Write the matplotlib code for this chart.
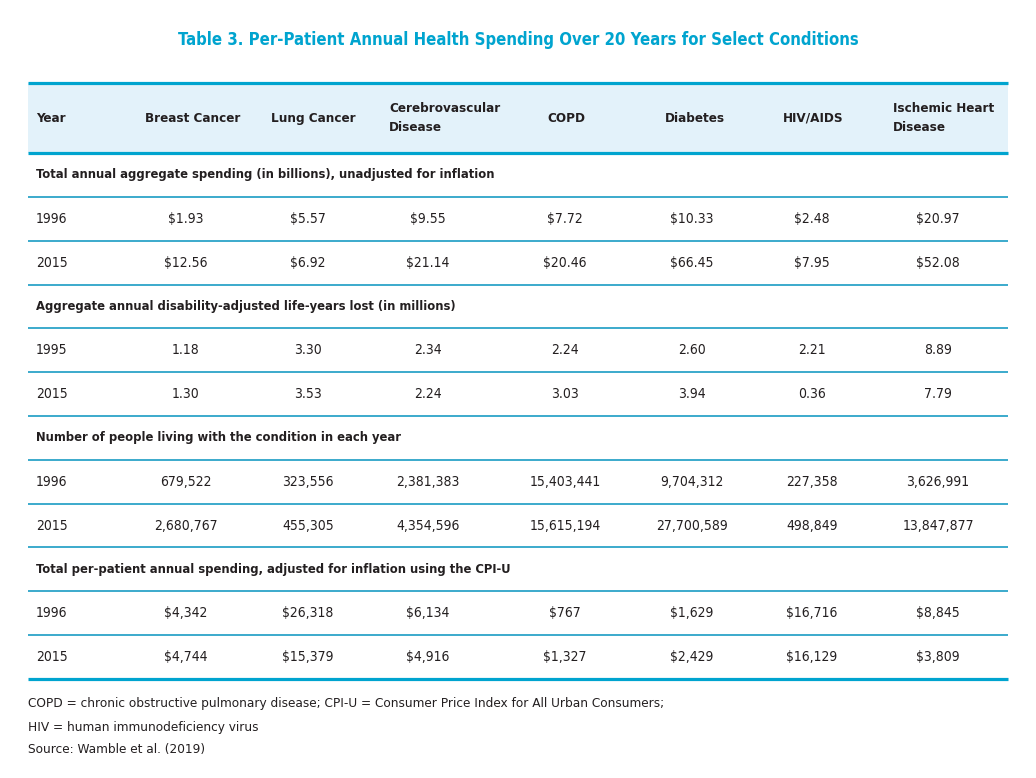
import matplotlib
matplotlib.use("Agg")
import matplotlib.pyplot as plt
from matplotlib import font_manager

title = "Table 3. Per-Patient Annual Health Spending Over 20 Years for Select Conditions"
columns = ["Breast Cancer", "Lung Cancer", "Cerebrovascular\nDisease", "COPD",
           "Diabetes", "HIV/AIDS", "Ischemic Heart\nDisease"]

section1 = "Total annual aggregate spending (in billions), unadjusted for inflation"
years1 = ["1996", "2015"]
spend_1996 = ["$1.93", "$5.57", "$9.55", "$7.72", "$10.33", "$2.48", "$20.97"]
spend_2015 = ["$12.56", "$6.92", "$21.14", "$20.46", "$66.45", "$7.95", "$52.08"]

section2 = "Aggregate annual disability-adjusted life-years lost (in millions)"
years2 = ["1995", "2015"]
daly_1995 = ["1.18", "3.30", "2.34", "2.24", "2.60", "2.21", "8.89"]
daly_2015 = ["1.30", "3.53", "2.24", "3.03", "3.94", "0.36", "7.79"]

section3 = "Number of people living with the condition in each year"
years3 = ["1996", "2015"]
people_1996 = ["679,522", "323,556", "2,381,383", "15,403,441", "9,704,312", "227,358", "3,626,991"]
people_2015 = ["2,680,767", "455,305", "4,354,596", "15,615,194", "27,700,589", "498,849", "13,847,877"]

section4 = "Total per-patient annual spending, adjusted for inflation using the CPI-U"
years4 = ["1996", "2015"]
pp_1996 = ["$4,342", "$26,318", "$6,134", "$767", "$1,629", "$16,716", "$8,845"]
pp_2015 = ["$4,744", "$15,379", "$4,916", "$1,327", "$2,429", "$16,129", "$3,809"]

notes = ["COPD = chronic obstructive pulmonary disease; CPI-U = Consumer Price Index for All Urban Consumers;",
         "HIV = human immunodeficiency virus",
         "Source: Wamble et al. (2019)"]

# pick a narrow font if there is one
names = set(f.name for f in font_manager.fontManager.ttflist)
if "Liberation Sans Narrow" in names:
    narrow = dict(family="Liberation Sans Narrow")
else:
    narrow = dict(family="DejaVu Sans", stretch="condensed")

blue = "#00a4cf"
line_blue = "#1a9cc4"
band = "#e3f2fa"
ink = "#231f20"

W, H = 1036, 778
fig = plt.figure(figsize=(W / 100, H / 100), dpi=100)
ax = fig.add_axes([0, 0, 1, 1])
ax.set_xlim(0, W)
ax.set_ylim(H, 0)
ax.axis("off")

left, right = 28, 1008
year_x = 36
head_x = [145, 271, 389, 547, 665, 783, 893]
val_x = [186, 308, 428, 565, 692, 812, 938]

ax.text(W / 2, 40, title, ha="center", va="center", color=blue,
        fontsize=12, fontweight="bold", **narrow)

# header band
top, head_bot = 83, 153
ax.fill_between([left, right], top, head_bot, color=band, lw=0)
ax.hlines([top, head_bot], left, right, color=blue, lw=2.3)
mid = (top + head_bot) / 2
ax.text(year_x, mid, "Year", ha="left", va="center", color=ink,
        fontsize=9.6, fontweight="bold", **narrow)
for x, c in zip(head_x, columns):
    ax.text(x, mid, c, ha="left", va="center", color=ink, fontsize=9.6,
            fontweight="bold", linespacing=1.6, **narrow)

blocks = [(section1, years1, [spend_1996, spend_2015]),
          (section2, years2, [daly_1995, daly_2015]),
          (section3, years3, [people_1996, people_2015]),
          (section4, years4, [pp_1996, pp_2015])]

rh = (679 - head_bot) / 12
y = head_bot
for sec, yrs, vals in blocks:
    ax.text(year_x, y + rh / 2, sec, ha="left", va="center", color=ink,
            fontsize=9.3, fontweight="bold", **narrow)
    y += rh
    ax.hlines(y, left, right, color=line_blue, lw=1.2)
    for yr, row in zip(yrs, vals):
        ax.text(year_x, y + rh / 2, yr, ha="left", va="center", color=ink,
                fontsize=10, **narrow)
        for x, v in zip(val_x, row):
            ax.text(x, y + rh / 2, v, ha="center", va="center", color=ink,
                    fontsize=10, **narrow)
        y += rh
        if y < 670:
            ax.hlines(y, left, right, color=line_blue, lw=1.2)
ax.hlines(y, left, right, color=blue, lw=2.3)

for i, n in enumerate(notes):
    ax.text(left, 704 + i * 23, n, ha="left", va="center", color=ink,
            fontsize=9.7, **narrow)

fig.savefig("out.png", dpi=100)
